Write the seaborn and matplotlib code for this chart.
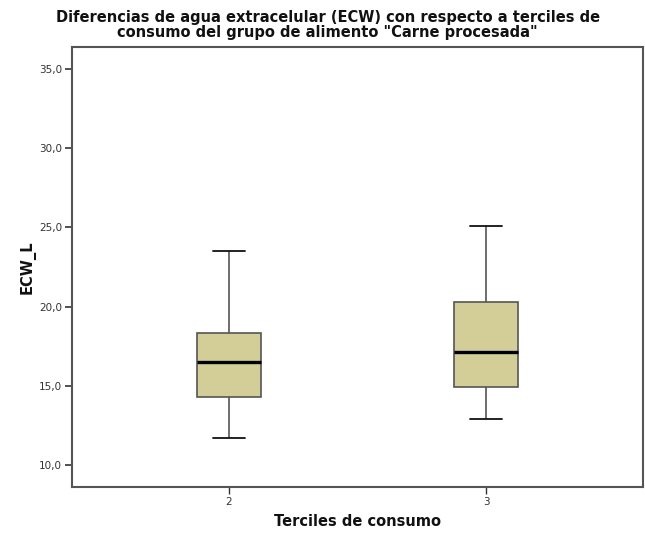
import matplotlib
matplotlib.use("Agg")
import matplotlib.pyplot as plt
import matplotlib.ticker as mticker
import seaborn as sns
import pandas as pd

# Categories (terciles) and five-number summaries
terciles = ["2", "3"]
# [lower whisker, Q1, median, Q3, upper whisker]
ecw_tercil_2 = [11.7, 14.3, 16.5, 18.3, 23.5]
ecw_tercil_3 = [12.9, 14.9, 17.1, 20.3, 25.1]
y_ticks = [10, 15, 20, 25, 30, 35]

title = 'Diferencias de agua extracelular (ECW) con respecto a terciles de\nconsumo del grupo de alimento "Carne procesada"'
x_label = "Terciles de consumo"
y_label = "ECW_L"

df = pd.DataFrame({
    "Tercil": [terciles[0]] * len(ecw_tercil_2) + [terciles[1]] * len(ecw_tercil_3),
    "ECW_L": ecw_tercil_2 + ecw_tercil_3,
})

sns.set_style("white")
plt.rcParams["font.family"] = ["DejaVu Sans"]

W, H = 645, 533
fig = plt.figure(figsize=(W / 100, H / 100), dpi=100)
ax = fig.add_axes([72 / W, 1 - 487 / H, (643 - 72) / W, (487 - 47) / H])

fill = "#D3CE97"
sns.boxplot(
    data=df, x="Tercil", y="ECW_L", order=terciles, ax=ax,
    width=0.25, color=fill, whis=1.5, showfliers=False,
    boxprops=dict(facecolor=fill, edgecolor="#555555", linewidth=1.2),
    whiskerprops=dict(color="#555555", linewidth=1.2),
    capprops=dict(color="#111111", linewidth=1.3),
    medianprops=dict(color="#000000", linewidth=2.4),
)

ax.set_xlim(-0.611, 1.611)
ax.set_ylim(8.6, 36.4)
ax.set_yticks(y_ticks)
ax.yaxis.set_major_formatter(mticker.FuncFormatter(lambda v, p: f"{v:.1f}".replace(".", ",")))

for s in ax.spines.values():
    s.set_visible(True)
    s.set_color("#555555")
    s.set_linewidth(1.5)

ax.tick_params(axis="y", which="major", direction="out", length=5, width=1.2,
               color="#333333", labelsize=7.5, labelcolor="#333333", left=True, pad=2)
ax.tick_params(axis="x", which="major", direction="out", length=5, width=1.0,
               color="#333333", labelsize=7.5, labelcolor="#333333", bottom=True, pad=2)

ax.set_xlabel("")
ax.set_ylabel("")
fig.text(357.5 / W, 1 - 522 / H, x_label, ha="center", va="center",
         fontsize=10.5, fontweight="bold", color="#111111")
fig.text(28 / W, 1 - 267 / H, y_label, ha="center", va="center", rotation=90,
         fontsize=10.5, fontweight="bold", color="#111111")

fig.text(0.508, 1 - 25 / H, title, ha="center", va="center", fontsize=10.5,
         fontweight="bold", linespacing=0.95, color="#111111")

fig.savefig("out.png", dpi=100)
